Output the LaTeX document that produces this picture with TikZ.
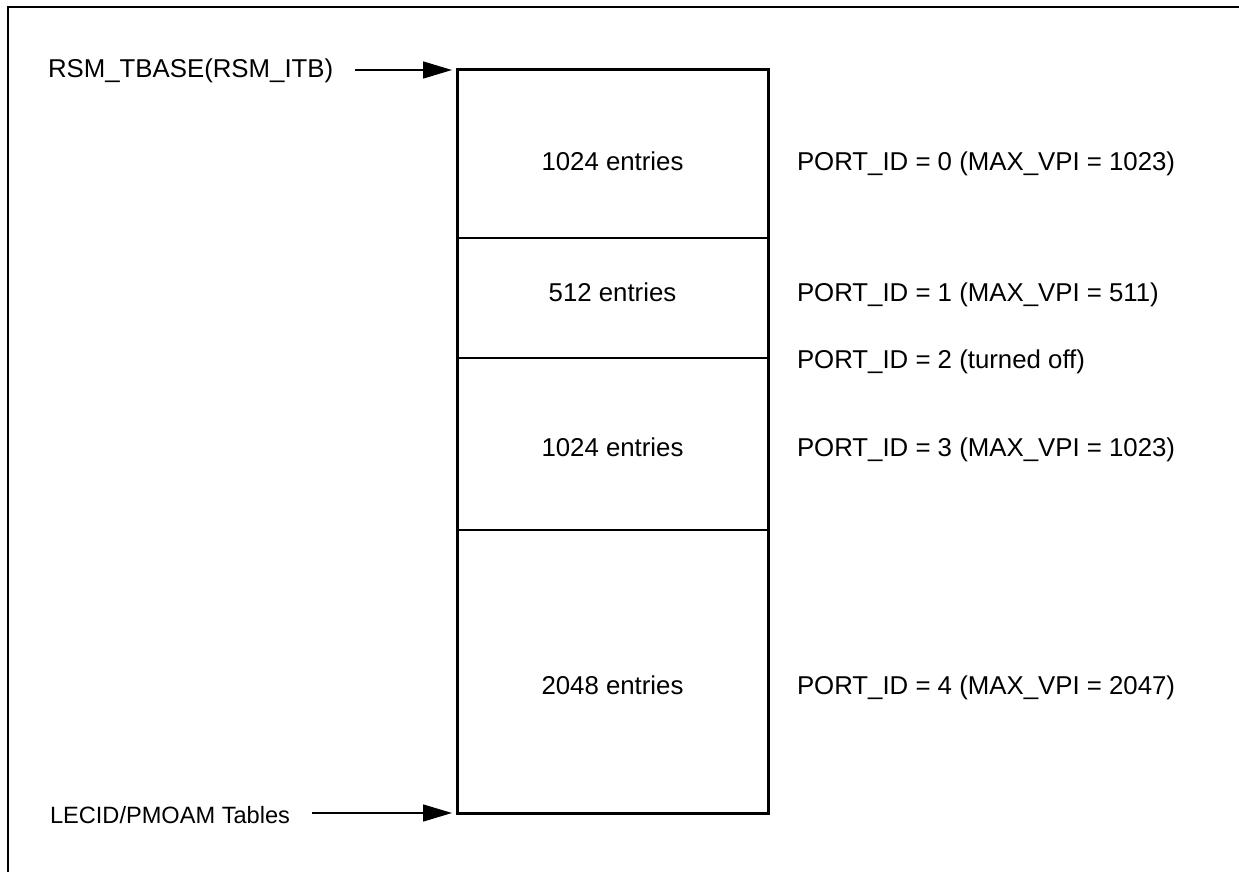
\documentclass[tikz,border=0pt]{standalone}
\usepackage{fontspec}
\setmainfont{Liberation Sans}
\usetikzlibrary{positioning,arrows.meta}

\begin{document}
\begin{tikzpicture}[x=0.5pt,y=-0.5pt,>={Triangle[length=14.5pt,width=8.5pt]},
  every node/.style={font=\fontsize{12.9}{15}\selectfont,inner sep=0pt,outer sep=0pt},
  part/.style={draw,line width=0.75pt,minimum width=155.5pt},
  tag/.style={anchor=base west},
  count/.style={anchor=base},
  ptr/.style={->,line width=0.75pt,shorten >=2.5pt}]
\clip (0,0) rectangle (1239,872);
\draw[line width=0.75pt] (8,7) rectangle (1300,950);
% table sections
\node[part,minimum height=84pt,anchor=north] (s0) at (612.5,70) {};
\node[part,minimum height=60pt,below=0pt of s0] (s1) {};
\node[part,minimum height=86pt,below=0pt of s1] (s2) {};
\node[part,minimum height=141.5pt,below=0pt of s2] (s3) {};
\draw[line width=1.5pt] (s0.north west) rectangle (s3.south east);
% entry counts
\node[count] (c0) at (612.5,171) {1024 entries};
\node[count] (c1) at (612.5,301) {512 entries};
\node[count] (c2) at (612.5,456) {1024 entries};
\node[count] (c3) at (612.5,694) {2048 entries};
% port labels
\node[tag] (p0) at (797,171) {PORT\_ID = 0 (MAX\_VPI = 1023)};
\node[tag] (p1) at (797,301) {PORT\_ID = 1 (MAX\_VPI = 511)};
\node[tag] (p2) at (797,368) {PORT\_ID = 2 (turned off)};
\node[tag] (p3) at (797,456) {PORT\_ID = 3 (MAX\_VPI = 1023)};
\node[tag] (p4) at (797,694) {PORT\_ID = 4 (MAX\_VPI = 2047)};
% pointers into the table
\node[tag] (tbase) at (48,78) {RSM\_TBASE(RSM\_ITB)};
\coordinate (tbase tail) at (355,70);
\draw[ptr] (tbase tail) -- (s0.north west);
\node[tag,font=\fontsize{11.8}{14}\selectfont] (lecid) at (50,823) {LECID/PMOAM Tables};
\coordinate (lecid tail) at (312,813);
\draw[ptr] (lecid tail) -- (s3.south west);
\end{tikzpicture}
\end{document}
